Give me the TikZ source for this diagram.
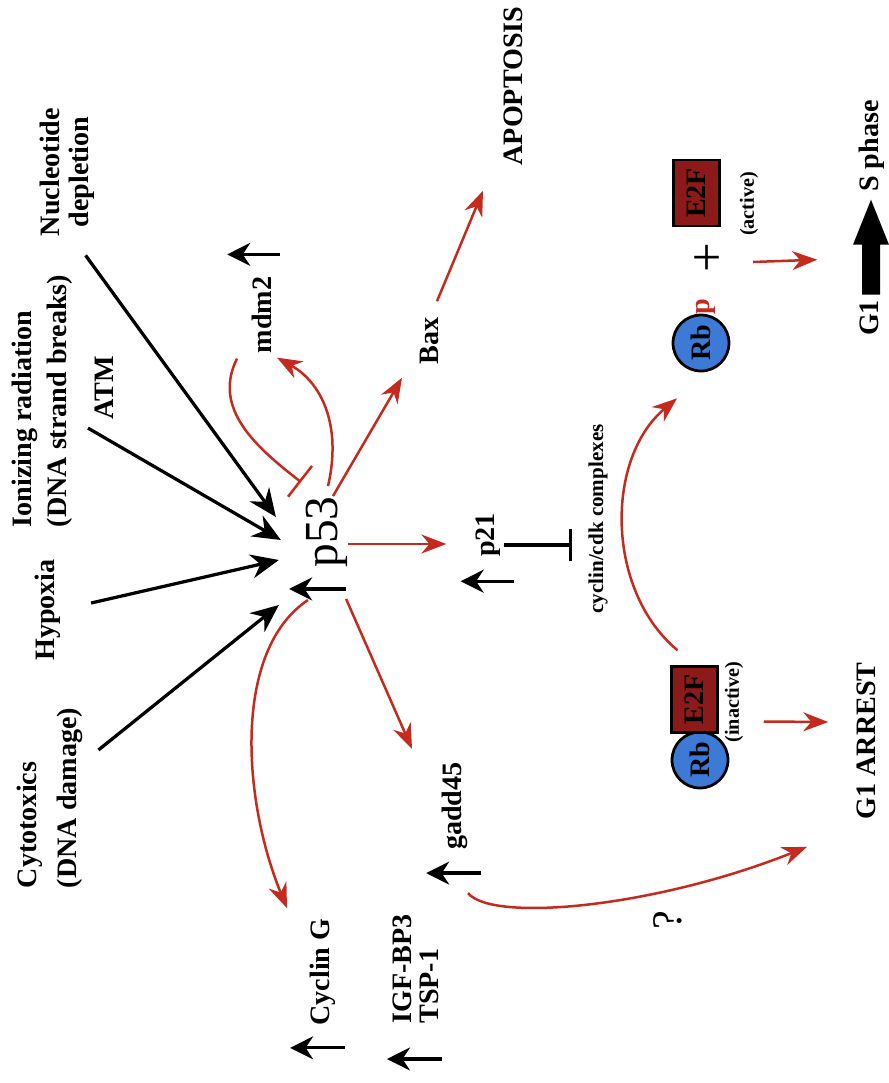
\documentclass[tikz,border=0pt]{standalone}
\usepackage{fontspec}
\setmainfont{Liberation Serif}
\usetikzlibrary{arrows.meta}
\definecolor{p53red}{RGB}{196,42,30}
\definecolor{e2fred}{RGB}{140,26,24}
\definecolor{rbblue}{RGB}{60,122,214}

\begin{document}
\begin{tikzpicture}[
    x=0.02cm, y=-0.02cm,
    lbl/.style={rotate=90, inner sep=0pt, align=center, font=\fontsize{16}{19}\selectfont\bfseries},
    sml/.style={rotate=90, inner sep=0pt, font=\fontsize{11.5}{13}\selectfont\bfseries},
    inarr/.style={-{Stealth[length=0.56cm, width=0.48cm]}, line width=0.065cm},
    uparr/.style={-{Stealth[length=0.46cm, width=0.46cm]}, line width=0.065cm},
    redarr/.style={-{Stealth[length=0.5cm, width=0.38cm]}, line width=0.05cm, p53red},
    redinh/.style={-{Bar[width=0.78cm]}, line width=0.05cm, p53red},
    blkinh/.style={-{Bar[width=0.64cm]}, line width=0.065cm},
    rbball/.style={circle, draw, fill=rbblue, line width=0.055cm, minimum size=1.12cm, inner sep=0pt, rotate=90, font=\fontsize{16}{18}\selectfont\bfseries},
    e2fbox/.style={draw, fill=e2fred, line width=0.05cm, minimum width=1.32cm, minimum height=0.92cm, inner sep=0pt, rotate=90, font=\fontsize{16}{18}\selectfont\bfseries},
]
    \fill[white] (0,0) rectangle (889,1083);
    \useasboundingbox (0,0) rectangle (889,1083);

    % Signals
    \node[lbl] (nucl) at (67,172) {Nucleotide\\[-2.5pt]depletion};
    \node[lbl, align=left] (ionz) at (42,401) {Ionizing radiation\\[1pt](DNA strand breaks)};
    \node[lbl] (atm) at (104,388) {ATM};
    \node[lbl] (hyp) at (48,610) {Hypoxia};
    \node[lbl, align=left] (cyto) at (50,798) {Cytotoxics\\[4pt](DNA damage)};

    % p53 and targets
    \node[rotate=90, inner sep=0pt, font=\fontsize{27}{29}\selectfont] (p53) at (327,532) {p53};
    \node[lbl] (mdm2) at (262,315) {mdm2};
    \node[lbl] (bax) at (429,341) {Bax};
    \node[lbl] (apop) at (513,86) {APOPTOSIS};
    \node[lbl] (p21) at (488,535) {p21};
    \node[sml, font=\fontsize{12}{14}\selectfont\bfseries] (cdk) at (598,519) {cyclin/cdk complexes};
    \node[lbl] (gadd) at (455,806) {gadd45};
    \node[lbl] (cycG) at (323,972) {Cyclin G};
    \node[lbl, align=left] (igf) at (416,969) {IGF-BP3\\[-4pt]TSP-1};
    \node[rotate=90, inner sep=0pt, font=\fontsize{24}{26}\selectfont] (quest) at (668,920) {?};
    \node[lbl] (arrest) at (866,741) {G1 ARREST};

    % Rb / E2F
    \node[rbball] (rbA) at (700,760) {Rb};
    \node[e2fbox] (e2fA) at (694.5,699.5) {E2F};
    \node[sml] (inact) at (734,702) {(inactive)};
    \node[rbball] (rbP) at (701,343) {Rb};
    \node[lbl, text=p53red] (ph) at (706,307) {p};
    \node[rotate=90, inner sep=0pt, font=\fontsize{30}{32}\selectfont] (plus) at (710,258) {+};
    \node[e2fbox] (e2fP) at (696.5,193) {E2F};
    \node[sml] (act) at (749,204) {(active)};
    \node[lbl] (g1) at (869,318) {G1};
    \node[lbl] (sphase) at (872,146) {S phase};
    \fill ([shift={(2,-5)}]g1.east) ++(-9,0) -- ++(0,-50) -- ++(-9,0) -- ++(18,-45)
        -- ++(18,45) -- ++(-9,0) -- ++(0,50) -- cycle;

    % Inputs to p53
    \draw[inarr] ([shift={(-9,19)}]nucl.south west) -- ([shift={(-30,-15)}]p53.north);
    \draw[inarr] ([shift={(-16,8)}]atm.west) -- ([shift={(-25,8)}]p53.north);
    \draw[inarr] ([shift={(30,-7)}]hyp.south) -- ([shift={(-27,28)}]p53.north);
    \draw[inarr] ([shift={(15,-48)}]cyto.south) -- ([shift={(-27,73)}]p53.north);

    % p53 outputs
    \draw[redarr] ([shift={(1,-10)}]p53.east) .. controls +(14,-60) and +(45,25) .. ([shift={(15,4)}]mdm2.west);
    \draw[redinh] ([shift={(-25,5)}]mdm2.west) .. controls +(-25,50) and +(-45,-35) .. ([shift={(-26,-14)}]p53.east);
    \draw[redarr] ([shift={(6,0)}]p53.east) -- ([shift={(-27,13)}]bax.west);
    \draw[redarr] ([shift={(8,-16)}]bax.east) -- ([shift={(-30,25)}]apop.west);
    \draw[redarr] ([shift={(0,12)}]p53.south) -- ([shift={(-29,9)}]p21.north);
    \draw[redarr] ([shift={(-2,31)}]p53.south west) -- ([shift={(-43,-13)}]gadd.east);
    \draw[redarr] ([shift={(-19,68)}]p53.center) .. controls +(-75,50) and +(-45,-110) .. ([shift={(-36,-10)}]cycG.east);
    \draw[redarr] ([shift={(13,43)}]gadd.west) .. controls +(25,30) and +(-150,60) .. ([shift={(-59,27)}]arrest.west);
    \draw[blkinh] ([shift={(3,10)}]p21.south) -- ([shift={(-16,26)}]cdk.north);

    % Rb cycle
    \draw[redarr] ([shift={(-17,-15)}]e2fA.east) .. controls +(-72,-60) and +(-72,60) .. ([shift={(-24,26)}]rbP.west);
    \draw[redarr] ([shift={(45,22)}]e2fA.south) -- ([shift={(-28,-19)}]arrest.north);
    \draw[redarr] ([shift={(43,4)}]plus.center) -- ([shift={(-42,-40)}]g1.north east);

    % Up arrows
    \draw[uparr] ([shift={(-2,21)}]p53.south west) -- ++(-57,0);
    \draw[uparr] ([shift={(13,24)}]p21.south west) -- ++(-53,0);
    \draw[uparr] ([shift={(8,-22)}]mdm2.south east) -- ++(-53,0);
    \draw[uparr] ([shift={(13,23)}]gadd.south west) -- ++(-55,0);
    \draw[uparr] ([shift={(9,22)}]cycG.south west) -- ++(-55,0);
    \draw[uparr] ([shift={(3,35)}]igf.south west) -- ++(-55,0);

\end{tikzpicture}
\end{document}
